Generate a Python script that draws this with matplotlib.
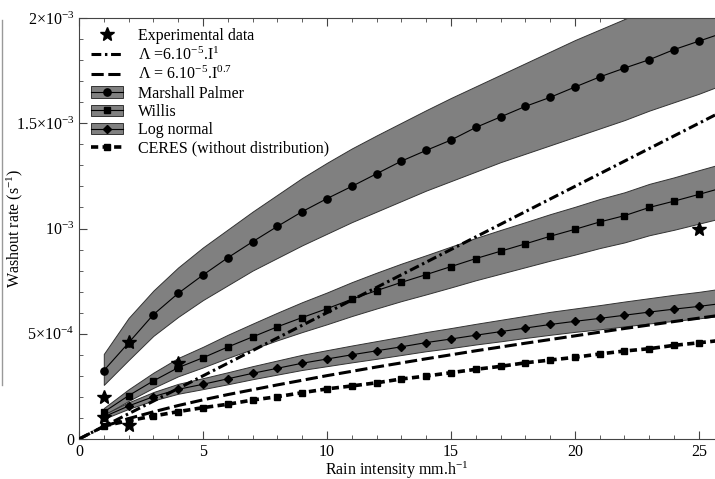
import matplotlib
matplotlib.use("Agg")
import matplotlib.pyplot as plt
from matplotlib.lines import Line2D
from matplotlib.patches import Patch
import numpy as np

# Rain intensity (mm/h) where the model curves are sampled
RAIN = list(range(1, 27))

# Washout rates in units of 1e-4 s^-1
MP_MID = [3.25, 4.57, 5.91, 6.92, 7.79, 8.61, 9.37, 10.1, 10.8, 11.42, 12.0, 12.6, 13.2,
          13.71, 14.2, 14.8, 15.3, 15.8, 16.23, 16.72, 17.2, 17.62, 18.02, 18.5, 18.9, 19.3]
MP_HIGH = [4.04, 5.75, 7.05, 8.15, 9.1, 9.95, 10.8, 11.6, 12.4, 13.12, 13.8, 14.42, 15.02,
           15.62, 16.2, 16.75, 17.3, 17.85, 18.4, 18.95, 19.45, 19.95, 20.45, 20.9, 21.35, 21.8]
MP_LOW = [2.57, 3.75, 4.9, 5.8, 6.6, 7.3, 8.0, 8.6, 9.2, 9.75, 10.3, 10.8, 11.3,
          11.8, 12.25, 12.7, 13.15, 13.55, 13.95, 14.35, 14.75, 15.15, 15.6, 16.0, 16.4, 16.85]

WILLIS_MID = [1.28, 2.06, 2.76, 3.39, 3.86, 4.37, 4.85, 5.33, 5.77, 6.19, 6.64, 7.05, 7.44,
              7.81, 8.19, 8.57, 8.92, 9.27, 9.63, 9.96, 10.31, 10.61, 11.0, 11.3, 11.62, 11.95]
WILLIS_HIGH = [1.47, 2.36, 3.15, 3.85, 4.38, 4.95, 5.48, 6.0, 6.5, 6.96, 7.45, 7.9, 8.33,
               8.73, 9.14, 9.55, 9.93, 10.3, 10.68, 11.03, 11.4, 11.72, 12.12, 12.43, 12.77, 13.1]
WILLIS_LOW = [1.13, 1.81, 2.43, 2.98, 3.4, 3.85, 4.27, 4.69, 5.08, 5.45, 5.84, 6.2, 6.55,
              6.87, 7.2, 7.54, 7.85, 8.16, 8.47, 8.76, 9.07, 9.34, 9.68, 9.94, 10.23, 10.52]

LOGN_MID = [1.05, 1.57, 2.01, 2.36, 2.6, 2.86, 3.12, 3.36, 3.6, 3.8, 4.0, 4.19, 4.38,
            4.58, 4.75, 4.93, 5.1, 5.27, 5.44, 5.59, 5.73, 5.88, 6.03, 6.17, 6.3, 6.45]
LOGN_HIGH = [1.17, 1.74, 2.23, 2.62, 2.89, 3.17, 3.46, 3.73, 4.0, 4.22, 4.44, 4.65, 4.86,
             5.08, 5.27, 5.47, 5.66, 5.85, 6.04, 6.2, 6.36, 6.53, 6.69, 6.85, 6.99, 7.16]
LOGN_LOW = [0.96, 1.43, 1.83, 2.15, 2.37, 2.6, 2.84, 3.06, 3.28, 3.46, 3.64, 3.81, 3.99,
            4.17, 4.32, 4.49, 4.64, 4.8, 4.95, 5.09, 5.21, 5.35, 5.49, 5.61, 5.73, 5.87]

CERES = [0.62, 0.87, 1.09, 1.3, 1.49, 1.65, 1.85, 2.01, 2.2, 2.38, 2.52, 2.67, 2.85,
         2.99, 3.15, 3.31, 3.45, 3.62, 3.75, 3.88, 4.04, 4.18, 4.29, 4.45, 4.57, 4.7]

# Empirical laws
LAW_RAIN = [0, 1, 2, 3, 4, 5, 6, 8, 10, 12, 14, 16, 18, 20, 22, 24, 26]
LAW_LIN = [0, 0.6, 1.2, 1.8, 2.4, 3.0, 3.6, 4.8, 6.0, 7.2, 8.4, 9.6, 10.8, 12.0, 13.2, 14.4, 15.6]
LAW_07 = [0, 0.6, 0.97, 1.29, 1.59, 1.86, 2.11, 2.57, 3.01, 3.42, 3.81, 4.19, 4.55, 4.9,
          5.25, 5.58, 5.9]

# Experimental data
EXP_RAIN = [1, 1, 2, 2, 4, 25]
EXP_RATE = [1.98, 1.03, 4.62, 0.67, 3.59, 10.0]

Y_TICKS = [0, 5e-4, 1e-3, 1.5e-3, 2e-3]
Y_TICK_LABELS = ["0", r"$5{\times}10^{-4}$", r"$10^{-3}$",
                 r"$1.5{\times}10^{-3}$", r"$2{\times}10^{-3}$"]

GREY = "#808080"
SCALE = 1e-4


def scaled(values):
    return np.array(values) * SCALE


plt.rcParams.update({
    "font.family": "Liberation Serif",
    "mathtext.fontset": "custom",
    "mathtext.rm": "Liberation Serif",
    "mathtext.it": "Liberation Serif:italic",
    "font.size": 11,
})

fig = plt.figure(figsize=(7.15, 4.79), dpi=100)
ax = fig.add_axes([79 / 715, 40 / 479, 1 - 79 / 715, 421 / 479])

bands = [
    ("Marshall Palmer", MP_MID, MP_LOW, MP_HIGH, "o", 5.2),
    ("Willis", WILLIS_MID, WILLIS_LOW, WILLIS_HIGH, "s", 4.0),
    ("Log normal", LOGN_MID, LOGN_LOW, LOGN_HIGH, "D", 3.8),
]

exp_h, = ax.plot(EXP_RAIN, scaled(EXP_RATE), linestyle="none", marker="*",
                 markersize=10.5, color="black", zorder=6)

lin_h, = ax.plot(LAW_RAIN, scaled(LAW_LIN), color="black", linewidth=2.2,
                 linestyle=(0, (3.2, 1.2, 0.8, 1.2)), zorder=4)
p07_h, = ax.plot(LAW_RAIN, scaled(LAW_07), color="black", linewidth=2.2,
                 linestyle=(0, (4, 1.5)), zorder=4)

band_handles = []
for name, mid, low, high, marker, size in bands:
    ax.fill_between(RAIN, scaled(low), scaled(high), facecolor=GREY,
                    edgecolor="#333333", linewidth=0.7, zorder=2)
    ax.plot(RAIN, scaled(mid), color="black", linewidth=0.8,
            marker=marker, markersize=size, zorder=5)
    band_handles.append(((Patch(facecolor=GREY, edgecolor="#333333", linewidth=0.7),
                          Line2D([], [], color="black", linewidth=0.8,
                                 marker=marker, markersize=size)), name))

ceres_h, = ax.plot(RAIN, scaled(CERES), color="black", linewidth=2.6,
                   linestyle=(0, (2.0, 1.2)), marker="s", markersize=4.3, zorder=4)

handles = [exp_h, lin_h, p07_h] + [h for h, _ in band_handles] + [ceres_h]
labels = ["Experimental data", r"$\Lambda$ =6.10$^{-5}$.I$^{1}$",
          r"$\Lambda$ = 6.10$^{-5}$.I$^{0.7}$"] + [n for _, n in band_handles] + \
         ["CERES (without distribution)"]

ax.legend(handles, labels, loc="upper left", frameon=False, fontsize=11.5,
          labelspacing=0.15, handlelength=2.0, handletextpad=0.95,
          borderaxespad=0.35, bbox_to_anchor=(0.0, 1.005))

ax.set_xlim(0, 25.65)
ax.set_ylim(0, 2e-3)
ax.set_xticks([0, 5, 10, 15, 20, 25])
ax.set_xticks(np.arange(0, 26, 1), minor=True)
ax.set_yticks(Y_TICKS)
ax.set_yticklabels(Y_TICK_LABELS)
ax.set_yticks(np.arange(0, 2.01e-3, 1e-4), minor=True)
ax.tick_params(which="both", direction="in", top=True, right=False, colors="#444444",
               labelcolor="black", labelsize=11.5)
ax.tick_params(which="major", length=6, width=0.8)
ax.tick_params(which="minor", length=3, width=0.6)
for side in ["left", "bottom", "top"]:
    ax.spines[side].set_color("#444444")
ax.spines["right"].set_visible(False)

ax.set_xlabel("Rain intensity mm.h$^{-1}$", fontsize=11.5)
ax.set_ylabel("Washout rate (s$^{-1}$)", fontsize=11.5)
ax.xaxis.set_label_coords(0.5, -0.048)
ax.yaxis.set_label_coords(-0.085, 0.5)

fig.add_artist(Line2D([1.5 / 715, 1.5 / 715], [1 - 20 / 479, 1 - 385 / 479],
                      color="#999999", linewidth=1))

fig.savefig("out.png", dpi=100)
